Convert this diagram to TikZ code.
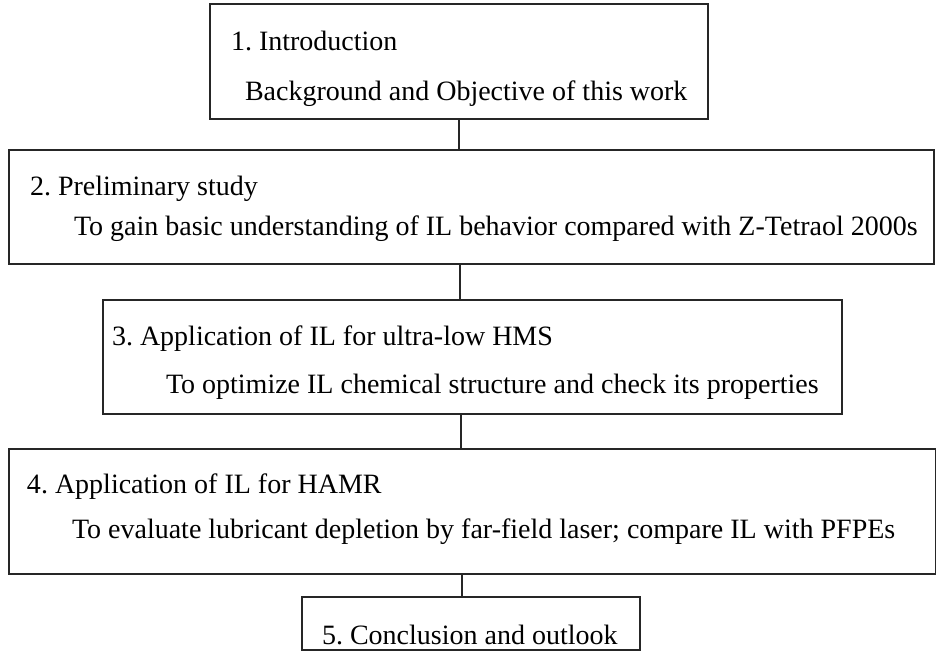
\documentclass[tikz,border=0pt]{standalone}
\usepackage{fontspec}
\setmainfont{Liberation Serif}
\frenchspacing
\begin{document}
\begin{tikzpicture}[x=1pt,y=-1pt,
  box/.style={draw=black!85, line width=1.1pt, rectangle, inner sep=0pt, outer sep=0pt, anchor=north west},
  txt/.style={anchor=base west, inner sep=0pt, outer sep=0pt, font=\fontsize{28}{30}\selectfont},
  conn/.style={draw=black!85, line width=1.1pt}]
\useasboundingbox (0,0) rectangle (936,661);
% boxes
\node[box, minimum width=498pt, minimum height=115pt] (b1) at (210,4) {};
\node[box, minimum width=925pt, minimum height=114pt] (b2) at (9,150) {};
\node[box, minimum width=739pt, minimum height=114pt] (b3) at (103,300) {};
\node[box, minimum width=926.5pt, minimum height=125pt] (b4) at (9,449) {};
\node[box, minimum width=338pt, minimum height=53pt] (b5) at (302,597) {};
% texts
\node[txt] (t1a) at (231,51) {1. Introduction};
\node[txt] (t1b) at (245,100) {Background and Objective of this work};
\node[txt] (t2a) at (30,195) {2. Preliminary study};
\node[txt] (t2b) at (74,235) {To gain basic understanding of IL behavior compared with Z-Tetraol 2000s};
\node[txt] (t3a) at (112,345) {3. Application of IL for ultra-low HMS};
\node[txt] (t3b) at (166,393) {To optimize IL chemical structure and check its properties};
\node[txt] (t4a) at (27,493) {4. Application of IL for HAMR};
\node[txt] (t4b) at (72,538) {To evaluate lubricant depletion by far-field laser; compare IL with PFPEs};
\node[txt] (t5) at (322,644) {5. Conclusion and outlook};
% connectors
\coordinate (x1) at (459,0);
\coordinate (x2) at (460,0);
\coordinate (x3) at (461,0);
\coordinate (x4) at (462,0);
\draw[conn] (b1.south -| x1) -- (b2.north -| x1);
\draw[conn] (b2.south -| x2) -- (b3.north -| x2);
\draw[conn] (b3.south -| x3) -- (b4.north -| x3);
\draw[conn] (b4.south -| x4) -- (b5.north -| x4);
\end{tikzpicture}
\end{document}
